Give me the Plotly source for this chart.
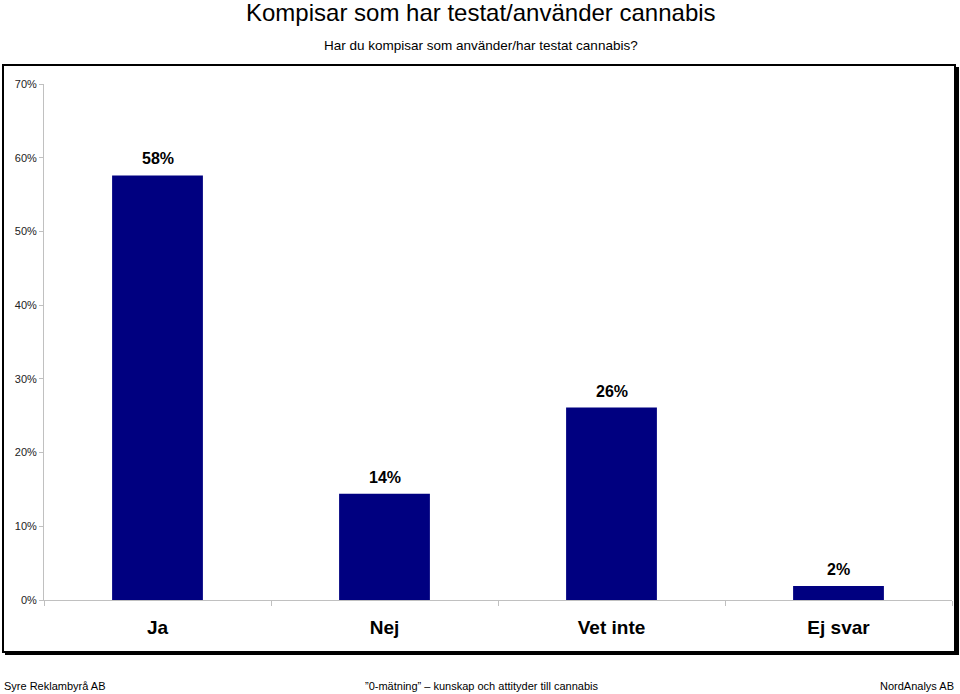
import plotly.graph_objects as go

categories = ["Ja", "Nej", "Vet inte", "Ej svar"]
values = [57.6, 14.4, 26.1, 1.9]
value_labels = ["58%", "14%", "26%", "2%"]
y_ticks = [0, 10, 20, 30, 40, 50, 60, 70]
y_tick_labels = ["0%", "10%", "20%", "30%", "40%", "50%", "60%", "70%"]

title_text = "Kompisar som har testat/använder cannabis"
subtitle_text = "Har du kompisar som använder/har testat cannabis?"
footer_left = "Syre Reklambyrå AB"
footer_center = "”0-mätning” – kunskap och attityder till cannabis"
footer_right = "NordAnalys AB"

W, H = 960, 694
ml, mr, mt, mb = 44, 8, 84, 94
pw, ph = W - ml - mr, H - mt - mb

def px_x(x):
    return (x - ml) / pw

def px_y(y):
    return (H - mb - y) / ph

FONT = "Arial, Liberation Sans, sans-serif"

fig = go.Figure()
fig.add_trace(go.Bar(
    x=categories, y=values, width=0.4,
    marker=dict(color="#000080", line=dict(width=0)),
    hoverinfo="skip",
))

for c, v, t in zip(categories, values, value_labels):
    fig.add_annotation(x=c, y=v, text="<b>" + t + "</b>", showarrow=False,
                       yanchor="bottom", yshift=6,
                       font=dict(family=FONT, size=16, color="black"))

shapes = [
    # shadow
    dict(type="rect", xref="paper", yref="paper", layer="below",
         x0=px_x(5), x1=px_x(959), y0=px_y(67), y1=px_y(655),
         fillcolor="black", line=dict(width=0)),
    # frame
    dict(type="rect", xref="paper", yref="paper", layer="below",
         x0=px_x(3), x1=px_x(955), y0=px_y(65), y1=px_y(652),
         fillcolor="white", line=dict(color="black", width=2)),
]

annotations_extra = [
    dict(text=title_text, x=px_x(481), y=px_y(13), xref="paper", yref="paper",
         showarrow=False, xanchor="center", yanchor="middle",
         font=dict(family=FONT, size=24, color="black")),
    dict(text=subtitle_text, x=px_x(481), y=px_y(45), xref="paper", yref="paper",
         showarrow=False, xanchor="center", yanchor="middle",
         font=dict(family=FONT, size=13.5, color="black")),
    dict(text=footer_left, x=px_x(2), y=px_y(686), xref="paper", yref="paper",
         showarrow=False, xanchor="left", yanchor="middle",
         font=dict(family=FONT, size=11, color="black")),
    dict(text=footer_center, x=px_x(481), y=px_y(686), xref="paper", yref="paper",
         showarrow=False, xanchor="center", yanchor="middle",
         font=dict(family=FONT, size=11, color="black")),
    dict(text=footer_right, x=px_x(956), y=px_y(686), xref="paper", yref="paper",
         showarrow=False, xanchor="right", yanchor="middle",
         font=dict(family=FONT, size=11, color="black")),
]
for a in annotations_extra:
    fig.add_annotation(**a)

fig.update_layout(
    width=W, height=H,
    margin=dict(l=ml, r=mr, t=mt, b=mb, pad=0),
    paper_bgcolor="white", plot_bgcolor="rgba(0,0,0,0)",
    showlegend=False,
    shapes=shapes,
    bargap=0.6,
)
fig.update_yaxes(range=[0, 70], tickvals=y_ticks, ticktext=y_tick_labels,
                 showgrid=False, zeroline=False, showline=True,
                 linecolor="#c0c0c0", linewidth=1,
                 ticks="outside", ticklen=4, tickcolor="#c0c0c0",
                 tickfont=dict(family=FONT, size=11, color="#222222"))
fig.update_xaxes(showgrid=False, showline=True, linecolor="#c0c0c0", linewidth=1,
                 ticks="outside", tickson="boundaries", ticklen=5, tickcolor="#c0c0c0",
                 ticklabelstandoff=10,
                 tickfont=dict(family=FONT, size=19, color="black"),
                 tickprefix="<b>", ticksuffix="</b>")

fig.write_html("out.html", config={"displayModeBar": False},
               post_script="document.body.style.margin='0';document.body.style.overflow='hidden';")
